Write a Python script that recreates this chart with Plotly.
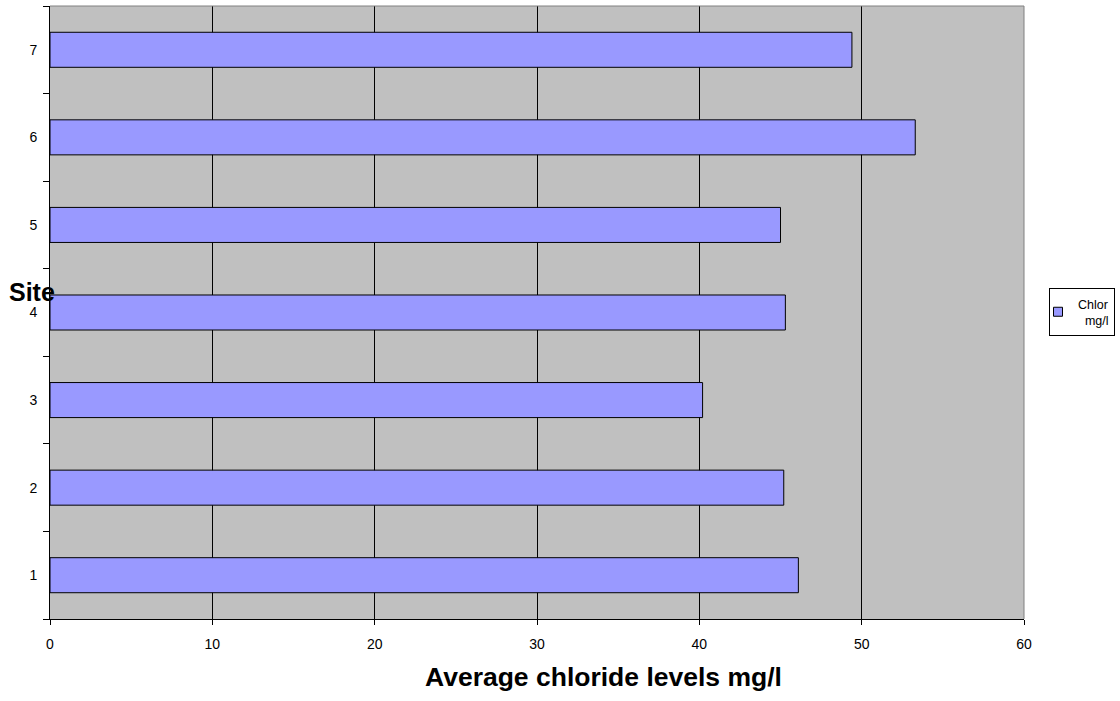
import plotly.graph_objects as go

sites = ["1", "2", "3", "4", "5", "6", "7"]
chloride = [46.1, 45.2, 40.2, 45.3, 45.0, 53.3, 49.4]
x_ticks = [0, 10, 20, 30, 40, 50, 60]
series_name = "Chlor<br>  mg/l"
x_title = "Average chloride levels mg/l"
y_title = "Site"

FONT = "Liberation Sans, Arial, sans-serif"
BAR = "#9999FF"

fig = go.Figure()
fig.add_trace(go.Bar(
    y=sites, x=chloride, orientation="h", width=0.4,
    marker=dict(color=BAR, line=dict(color="black", width=1)),
    showlegend=False, name=series_name,
))
# legend entry with a small square swatch
fig.add_trace(go.Scatter(
    x=[None], y=[None], mode="markers", name=series_name,
    marker=dict(symbol="square", size=9, color=BAR, line=dict(color="black", width=1)),
))

fig.update_layout(
    width=1120, height=701,
    margin=dict(l=50, r=96, t=6, b=82, autoexpand=False),
    paper_bgcolor="white", plot_bgcolor="#C0C0C0",
    font=dict(family=FONT, size=14, color="black"),
    showlegend=True,
    legend=dict(
        xref="container", yref="container",
        x=1049 / 1120, y=(701 - 312) / 701, xanchor="left", yanchor="middle",
        bgcolor="white", bordercolor="black", borderwidth=1,
        font=dict(family=FONT, size=12.5, color="black"),
        itemwidth=30, tracegroupgap=0, indentation=-12,
    ),
    xaxis=dict(
        range=[0, 60], tickvals=x_ticks, ticktext=[str(v) for v in x_ticks],
        showgrid=True, gridcolor="#000000", gridwidth=1,
        showline=True, linecolor="black", linewidth=1,
        ticks="outside", ticklen=5, tickcolor="black",
        ticklabelstandoff=7, zeroline=False,
        tickfont=dict(family=FONT, size=14),
    ),
    yaxis=dict(
        type="category", categoryorder="array", categoryarray=sites,
        range=[-0.5, 6.5],
        showgrid=False, zeroline=False,
        showline=True, linecolor="black", linewidth=1,
        ticks="outside", tickson="boundaries", ticklen=6, tickcolor="black",
        ticklabelstandoff=9,
        tickfont=dict(family=FONT, size=14),
    ),
    shapes=[
        dict(type="line", xref="paper", yref="paper", x0=0, x1=1, y0=1, y1=1,
             line=dict(color="#808080", width=1)),
        dict(type="line", xref="paper", yref="paper", x0=1, x1=1, y0=0, y1=1,
             line=dict(color="#808080", width=1)),
    ],
    annotations=[
        dict(text="<b>" + x_title + "</b>", xref="paper", yref="paper",
             x=(603 - 50) / 974, y=(619 - 677) / 613, xanchor="center", yanchor="middle",
             showarrow=False, font=dict(family=FONT, size=26.5, color="black")),
        dict(text="<b>" + y_title + "</b>", xref="paper", yref="paper",
             x=(32 - 50) / 974, y=(619 - 292) / 613, xanchor="center", yanchor="middle",
             showarrow=False, font=dict(family=FONT, size=25, color="black")),
    ],
)

fig.write_html("out.html")
